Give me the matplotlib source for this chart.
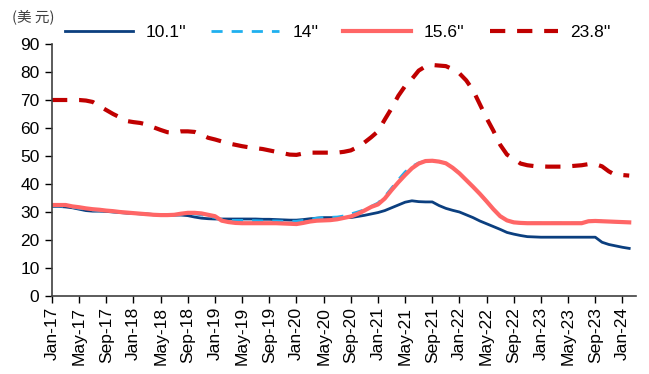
import matplotlib
matplotlib.use("Agg")
import matplotlib.pyplot as plt
import numpy as np

# monthly prices, Jan-2017 .. Feb-2024
months = np.arange(86)
tick_labels = [f"{m}-{y}" for y in range(17, 25) for m in ("Jan", "May", "Sep")][:22]

p_101 = [32, 32, 31.8, 31.5, 31, 30.5, 30.3, 30.3, 30.2, 30, 29.8, 29.6,
         29.5, 29.4, 29.3, 29.1, 29, 28.9, 28.9, 28.9, 28.7, 28.2, 27.8, 27.6,
         27.5, 27.5, 27.5, 27.5, 27.5, 27.5, 27.5, 27.4, 27.4, 27.3, 27.2, 27.1,
         27.1, 27.3, 27.6, 27.8, 28, 28, 28, 28, 28, 28.4, 28.8, 29.3,
         29.8, 30.5, 31.5, 32.5, 33.5, 34, 33.7, 33.6, 33.6, 32.3, 31.3, 30.6,
         30, 29, 28, 26.8, 25.8, 24.8, 23.8, 22.7, 22.1, 21.6, 21.2, 21.1,
         21, 21, 21, 21, 21, 21, 21, 21, 21, 19.2, 18.4, 17.9,
         17.4, 17]

p_14 = [32.2, 32.2, 32, 31.7, 31.3, 31, 30.7, 30.5, 30.3, 30.1, 29.9, 29.7,
        29.5, 29.3, 29.1, 29, 28.9, 28.8, 28.9, 29.2, 29.4, 29.3, 29, 28.5,
        28, 27.2, 27, 27, 27, 26.9, 26.9, 26.8, 26.8, 26.8, 26.7, 26.7,
        26.7, 27, 27.4, 27.8, 28, 28.1, 28.2, 28.6, 29.3, 30, 30.8, 32,
        33.2, 35.5, 38.5, 41.5, 44.3, 46.3, 47.5, 48.2, 48.2, 48, 47.4, 45.8,
        43.8, 41.4, 39, 36.5, 33.8, 31, 28.5, 27, 26.3, 26.1, 26, 26,
        26, 26, 26, 26, 26, 26, 26, 26.7, 26.8, 26.7, 26.6, 26.5,
        26.4, 26.3]

p_156 = [32.5, 32.5, 32.5, 32, 31.7, 31.3, 31, 30.8, 30.5, 30.3, 30, 29.8,
         29.6, 29.4, 29.2, 29, 28.9, 28.9, 29, 29.4, 29.7, 29.7, 29.5, 29,
         28.5, 26.9, 26.4, 26.1, 26, 26, 26, 26, 26, 26, 25.9, 25.8,
         25.7, 26.1, 26.6, 26.9, 27, 27.1, 27.4, 27.9, 28.4, 29.3, 30.5, 31.8,
         32.7, 34.8, 37.8, 40.6, 43.2, 45.6, 47.3, 48.2, 48.3, 48, 47.4, 45.8,
         43.8, 41.4, 39, 36.5, 33.8, 31, 28.5, 27, 26.3, 26.1, 26, 26,
         26, 26, 26, 26, 26, 26, 26, 26.7, 26.8, 26.7, 26.6, 26.5,
         26.4, 26.3]

p_238 = [70, 70, 70, 70, 70, 69.8, 69.3, 67.8, 66.4, 65, 63.8, 62.5,
         62.1, 61.8, 61.2, 60.2, 59.3, 58.5, 58.3, 58.8, 58.8, 58.6, 57.6, 56.5,
         55.9, 55.2, 54.5, 54, 53.5, 53.1, 52.8, 52.5, 52, 51.5, 51, 50.5,
         50.4, 50.9, 51.2, 51.2, 51.2, 51.2, 51.2, 51.5, 52, 53.2, 54.8, 56.7,
         58.8, 63, 67, 71.5, 75, 77.5, 80.5, 82, 82.5, 82.3, 82.1, 81,
         79.5, 77, 73.5, 68.5, 63.5, 59, 54, 50.5, 49, 47.3, 46.7, 46.4,
         46.3, 46.2, 46.2, 46.2, 46.3, 46.5, 46.7, 47.1, 47.1, 46.3, 44.5, 43.2,
         43.2, 43]

plt.rcParams["font.family"] = ["Liberation Sans", "DejaVu Sans"]
plt.rcParams["lines.scale_dashes"] = False

fig = plt.figure(figsize=(6.49, 3.74), dpi=100)
ax = fig.add_axes([52 / 649, 78 / 374, 584 / 649, 252 / 374])

ax.plot(months, p_101, color="#0b3f7f", lw=2.0, label="10.1''")
ax.plot(months, p_14, color="#1fb0ef", lw=2.0, dashes=(8, 6.5), label="14''")
ax.plot(months, p_156, color="#ff6666", lw=3.0, label="15.6''")
ax.plot(months, p_238, color="#c00000", lw=3.0, dashes=(11, 8.5), label="23.8''")

ax.set_xlim(0, 86)
ax.set_ylim(0, 90)
ax.set_yticks(np.arange(0, 91, 10))
ax.set_xticks(np.arange(0, 85, 4))
ax.set_xticklabels(tick_labels, rotation=90, fontsize=12.5)
ax.tick_params(axis="y", labelsize=12.5, length=5, width=1, direction="out", pad=4)
ax.tick_params(axis="x", length=5, width=1, direction="out", pad=3)
for side in ("top", "right"):
    ax.spines[side].set_visible(False)
for side in ("left", "bottom"):
    ax.spines[side].set_color("#404040")
    ax.spines[side].set_linewidth(1.2)

fig.text(12 / 649, 1 - 17 / 374, "(美 元)", fontsize=10.5, color="#404040",
         va="center", ha="left", family=["Noto Sans CJK SC", "DejaVu Sans"])

fig.legend(loc="center left", bbox_to_anchor=(65 / 649, 1 - 32 / 374), ncol=4,
           frameon=False, fontsize=12.5, handlelength=3.9, handletextpad=0.75,
           columnspacing=1.44, borderaxespad=0, borderpad=0)

fig.savefig("out.png", dpi=100)
